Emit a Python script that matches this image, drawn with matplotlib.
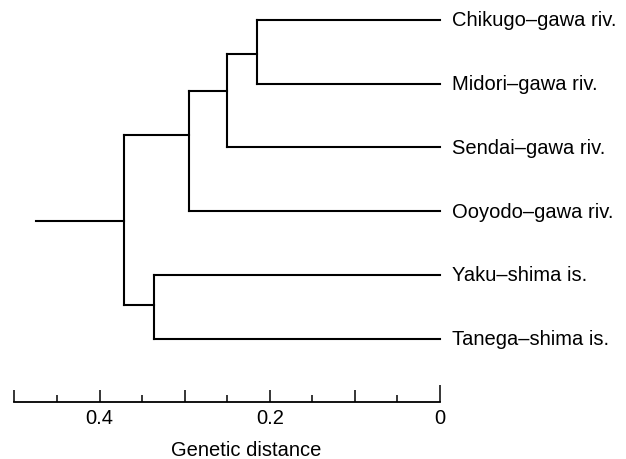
import matplotlib
matplotlib.use("Agg")
import matplotlib.pyplot as plt
from matplotlib.ticker import FixedLocator

plt.rcParams['font.family'] = ['Liberation Sans', 'DejaVu Sans']

# leaves, top to bottom
leaves = ["Chikugo–gawa riv.", "Midori–gawa riv.", "Sendai–gawa riv.",
          "Ooyodo–gawa riv.", "Yaku–shima is.", "Tanega–shima is."]

# internal nodes: children (leaf index or node name), join distance, row of the stem
node_names = ["A", "B", "C", "D", "root"]
node_children = [(0, 1), ("A", 2), ("B", 3), (4, 5), ("C", "D")]
node_height = [0.215, 0.250, 0.295, 0.336, 0.371]
node_row = [0.53, 1.12, 1.81, 4.48, 3.16]
root_start = 0.475

# scale bar
major_ticks = [0.0, 0.1, 0.2, 0.3, 0.4, 0.5]
major_labels = ["0", "", "0.2", "", "0.4", ""]
minor_ticks = [0.05, 0.15, 0.25, 0.35, 0.45]

W, H = 626, 460
fig = plt.figure(figsize=(W / 100, H / 100), dpi=100)
bar_px = 403
ax = fig.add_axes([0, (H - bar_px) / H, 1, bar_px / H])

lw = 1.5
col = "black"


def pos(c):
    # height and row of a child
    if isinstance(c, int):
        return 0.0, c
    i = node_names.index(c)
    return node_height[i], node_row[i]


for (a, b), h, r in zip(node_children, node_height, node_row):
    ha, ra = pos(a)
    hb, rb = pos(b)
    ax.plot([h, h], [ra, rb], color=col, lw=lw, solid_capstyle="projecting")
    ax.plot([h, ha], [ra, ra], color=col, lw=lw, solid_capstyle="projecting")
    ax.plot([h, hb], [rb, rb], color=col, lw=lw, solid_capstyle="projecting")

# root stub
ax.plot([root_start, node_height[-1]], [node_row[-1], node_row[-1]], color=col, lw=lw)

for i, name in enumerate(leaves):
    ax.annotate(name, xy=(0, i), xytext=(8.5, 0), textcoords="offset points",
                va="center", ha="left", fontsize=14.5)

ax.set_xlim(440 / 851, -(W - 440) / 851)
ax.set_ylim((bar_px - 21) / 63.7, -21 / 63.7)

for s in ["top", "left", "right"]:
    ax.spines[s].set_visible(False)
ax.spines["bottom"].set_bounds(0, 0.5)
ax.spines["bottom"].set_linewidth(1.3)
ax.set_yticks([])
ax.xaxis.set_major_locator(FixedLocator(major_ticks))
ax.set_xticklabels(major_labels)
ax.xaxis.set_minor_locator(FixedLocator(minor_ticks))
ax.tick_params(axis="x", which="major", direction="in", length=8.5, width=1.1,
               pad=4, labelsize=14.5)
ax.tick_params(axis="x", which="minor", direction="in", length=5, width=1.1)
# the zero tick is a bit taller
ax.xaxis.get_major_ticks()[0].tick1line.set_markersize(12)

ax.annotate("Genetic distance", xy=(0.228, 0), xycoords=("data", "axes fraction"),
            xytext=(0, -34), textcoords="offset points", ha="center", va="center",
            fontsize=14.5)

ax.patch.set_alpha(0)
fig.savefig("out.png", dpi=100)
